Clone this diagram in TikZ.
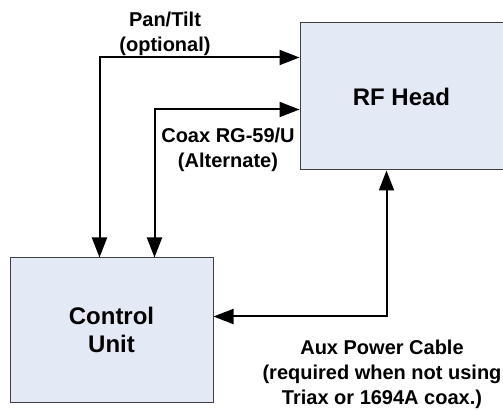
\documentclass[tikz,border=0pt]{standalone}
\usepackage{fontspec}
\setmainfont{Liberation Sans}
\usetikzlibrary{arrows.meta}
\definecolor{boxfill}{HTML}{E4EAF5}
\definecolor{boxline}{HTML}{404040}
\tikzset{
  unit/.style={draw=boxline, line width=1pt, fill=boxfill, minimum width=203pt, inner sep=0pt,
    align=center, font=\fontsize{24}{28}\selectfont\bfseries},
  lbl/.style={align=center, inner sep=0pt, font=\fontsize{20}{25}\selectfont\bfseries},
  conn/.style={line width=2pt, {Triangle[length=20pt,width=15pt]}-{Triangle[length=20pt,width=15pt]}}
}
\begin{document}
\begin{tikzpicture}[x=1pt,y=-1pt]
\useasboundingbox (0,0) rectangle (503,411);
\node[unit, minimum height=147pt] (rf) at (401.5,96.5) {RF Head};
\node[unit, minimum height=144pt] (cu) at (111.5,330) {Control\\Unit};
\draw[conn] ([xshift=90pt]cu.north west) |- ([yshift=-35pt]rf.north west);
\draw[conn] ([xshift=145pt]cu.north west) |- ([yshift=-87pt]rf.north west);
\draw[conn] ([yshift=-59pt]cu.north east) -| ([xshift=87pt]rf.south west);
\node[lbl] (pt) at (165,34) {Pan/Tilt\\(optional)};
\node[lbl] (cx) at (228,150) {Coax RG-59/U\\(Alternate)};
\node[lbl] (aux) at (382,374) {Aux Power Cable\\(required when not using\\Triax or 1694A coax.)};
\end{tikzpicture}
\end{document}
